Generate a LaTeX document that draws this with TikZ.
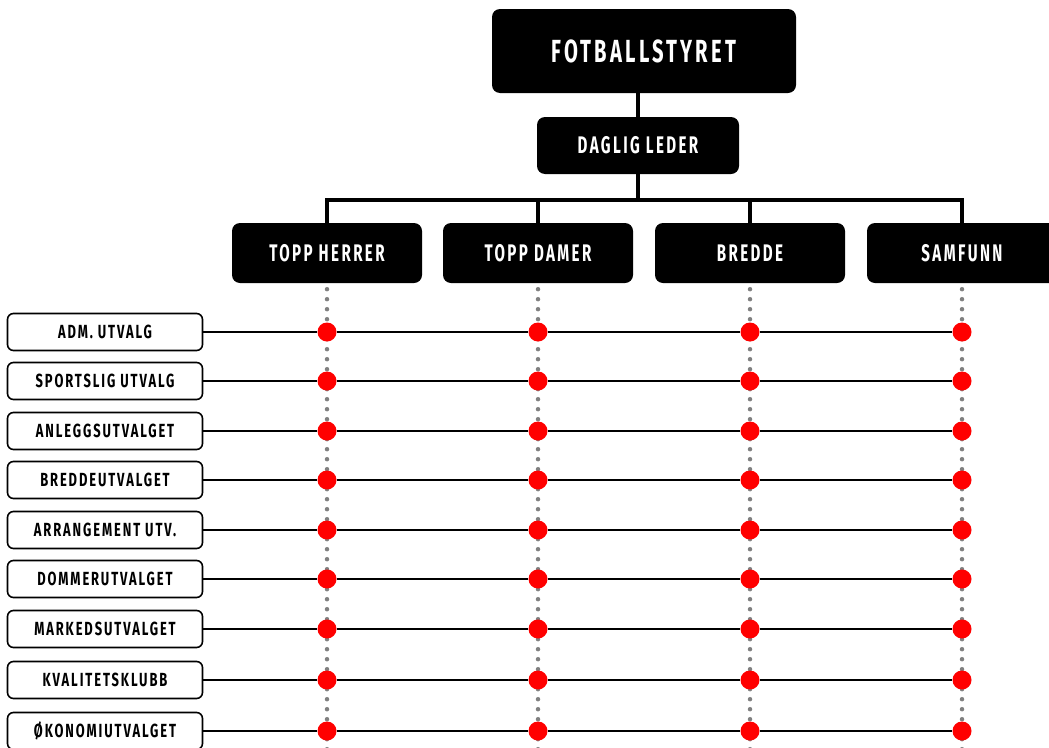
\documentclass[tikz,border=0pt]{standalone}
\usepackage{fontspec}
\newfontfamily\orgfont[FakeStretch=0.68,LetterSpace=10]{Fira Sans}
\newfontfamily\headfont[FakeStretch=0.63,LetterSpace=10]{Fira Sans}
\begin{document}
\begin{tikzpicture}[x=1pt,y=-1pt,
        headbox/.style={fill=black,rounded corners=8pt,text=white,inner sep=0pt},
        unitbox/.style={draw=black,line width=1.6pt,rounded corners=6pt,fill=white,inner sep=0pt,
            minimum width=195pt,minimum height=37pt,font=\orgfont\bfseries\fontsize{19}{19}\selectfont},
        tree/.style={line width=4pt},
        dotline/.style={gray,line width=4.5pt,line cap=round,dash pattern=on 0pt off 10pt},
        rowline/.style={line width=2pt},
        reddot/.style={circle,fill=red,inner sep=0pt,minimum size=19pt}]
    \useasboundingbox (0,0) rectangle (1049,747);
    \coordinate (bottom) at (0,752);
    % top of the tree
    \node[headbox,minimum width=304pt,minimum height=84pt,font=\headfont\bfseries\fontsize{32}{32}\selectfont] (styret) at (644,51) {FOTBALLSTYRET};
    \node[headbox,minimum width=202pt,minimum height=57pt,font=\headfont\bfseries\fontsize{24}{24}\selectfont] (leder) at (638,145.5) {DAGLIG LEDER};
    \foreach \col/\x/\lab in {herrer/327/TOPP HERRER,damer/538/TOPP DAMER,bredde/750/BREDDE,samfunn/962/SAMFUNN}
        \node[headbox,minimum width=190pt,minimum height=60pt,font=\headfont\bfseries\fontsize{24}{24}\selectfont] (\col) at (\x,253) {\lab};
    \draw[tree] (styret.south -| leder) -- (leder.north);
    \draw[tree] (leder.south) -- ++(0,26) coordinate (bus);
    \foreach \col in {herrer,damer,bredde,samfunn}
        \draw[tree] (bus) -| (\col.north);
    % dotted columns
    \foreach \col in {herrer,damer,bredde,samfunn}
        \draw[dotline] ([yshift=-6pt]\col.south) -- (\col.south |- bottom);
    % committees
    \foreach \name/\y/\lab in {adm/332/ADM. UTVALG,sport/381/SPORTSLIG UTVALG,anlegg/431/ANLEGGSUTVALGET,
            breddeutv/480/BREDDEUTVALGET,arr/530/ARRANGEMENT UTV.,dommer/579/DOMMERUTVALGET,
            marked/629/MARKEDSUTVALGET,kval/680/KVALITETSKLUBB,okonomi/731/ØKONOMIUTVALGET}{
        \node[unitbox] (\name) at (105,\y) {\lab};
        \foreach \col in {herrer,damer,bredde,samfunn}
            \node[reddot] (\name-\col) at (\col |- \name) {};
        \draw[rowline] (\name) -- (\name-herrer) -- (\name-damer) -- (\name-bredde) -- (\name-samfunn);
    }
\end{tikzpicture}
\end{document}
